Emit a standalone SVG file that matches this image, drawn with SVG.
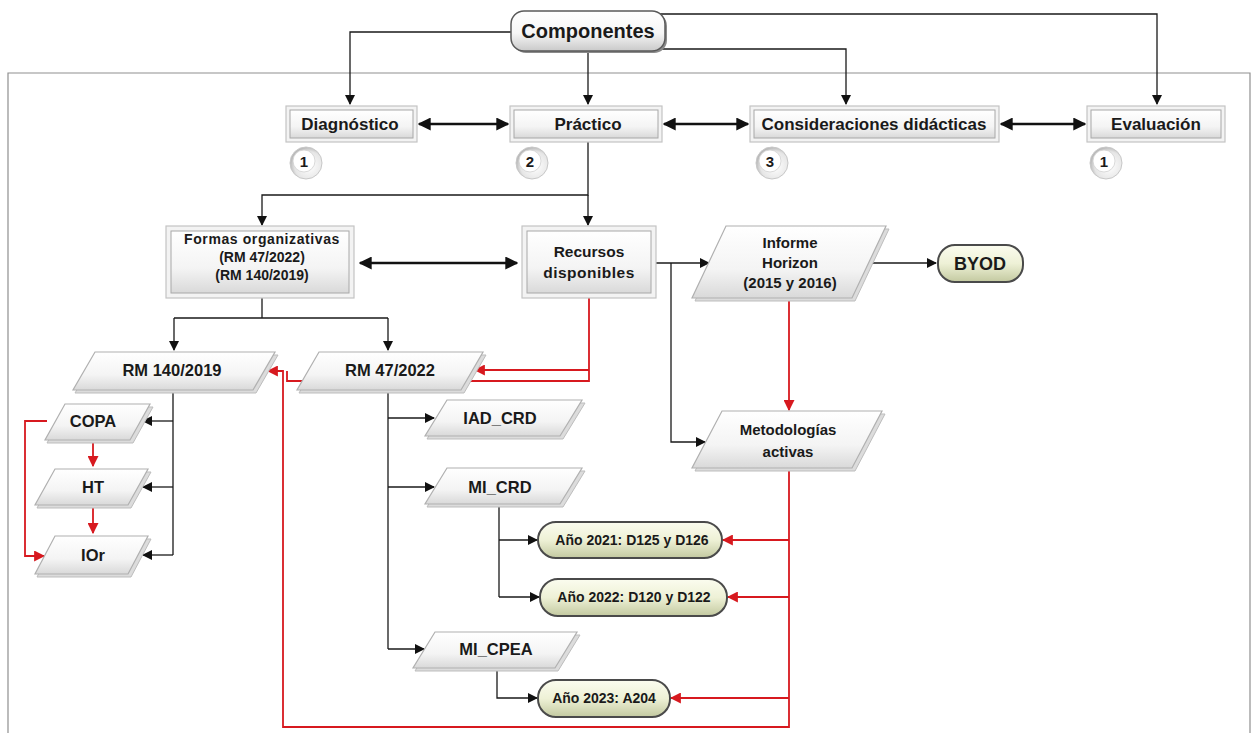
<svg xmlns="http://www.w3.org/2000/svg" width="1257" height="733" viewBox="0 0 1257 733">
<defs>
<linearGradient id="gBox" x1="0" y1="0" x2="0" y2="1">
<stop offset="0" stop-color="#ffffff"/><stop offset="0.6" stop-color="#f4f4f4"/><stop offset="1" stop-color="#d9d9d9"/>
</linearGradient>
<linearGradient id="gComp" x1="0" y1="0" x2="0" y2="1">
<stop offset="0" stop-color="#ffffff"/><stop offset="0.55" stop-color="#f6f6f6"/><stop offset="1" stop-color="#c9c9c9"/>
</linearGradient>
<linearGradient id="gPill" x1="0" y1="0" x2="0" y2="1">
<stop offset="0" stop-color="#fbfcef"/><stop offset="0.5" stop-color="#eef1d6"/><stop offset="1" stop-color="#c3c9a0"/>
</linearGradient>
<radialGradient id="gRing" cx="0.6" cy="0.6" r="0.6">
<stop offset="0" stop-color="#ffffff"/><stop offset="0.75" stop-color="#e6e6e6"/><stop offset="1" stop-color="#b8b8b8"/>
</radialGradient>
<marker id="ab" viewBox="0 0 10 10" refX="9" refY="5" markerWidth="10" markerHeight="10" markerUnits="userSpaceOnUse" orient="auto-start-reverse">
<path d="M0,0 L10,5 L0,10 z" fill="#111"/>
</marker>
<marker id="abBig" viewBox="0 0 10 10" refX="9" refY="5" markerWidth="13" markerHeight="13" markerUnits="userSpaceOnUse" orient="auto-start-reverse">
<path d="M0,0 L10,5 L0,10 z" fill="#111"/>
</marker>
<marker id="ar" viewBox="0 0 10 10" refX="9" refY="5" markerWidth="11" markerHeight="11" markerUnits="userSpaceOnUse" orient="auto-start-reverse">
<path d="M0,0 L10,5 L0,10 z" fill="#d7191f"/>
</marker>
</defs>
<style>
.t{font-family:"Liberation Sans",Arial,sans-serif;font-weight:bold;fill:#1a1a1a;text-anchor:middle}
.big{font-size:20px}
.top{font-size:17px}
.mid{font-size:14px}
.par{font-size:16.5px}
.sm{font-size:14px}
.num{font-size:15px}
.bl{fill:none;stroke:#1a1a1a;stroke-width:1.3}
.bl2{fill:none;stroke:#111;stroke-width:2.6}
.rd{fill:none;stroke:#d7191f;stroke-width:1.8}
.outer{fill:#f3f3f3;stroke:#c4c4c4;stroke-width:1.2}
.inner{fill:url(#gBox);stroke:#a8a8a8;stroke-width:1}
.psh{fill:#dcdcdc;stroke:#bdbdbd;stroke-width:1}
.para{fill:url(#gBox);stroke:#b0b0b0;stroke-width:1.2}
.pill{fill:url(#gPill);stroke:#4a4a4a;stroke-width:2}
.ring{fill:url(#gRing);stroke:#c8c8c8;stroke-width:1}
.core{fill:#ffffff;stroke:#d0d0d0;stroke-width:0.8}
</style>
<rect width="1257" height="733" fill="#ffffff"/>
<path d="M8,740 V73 H1250 V740" fill="none" stroke="#8f8f8f" stroke-width="1.2"/>

<g id="connectors">
<path class="bl" d="M511,32 H350 V104" marker-end="url(#ab)"/>
<path class="bl" d="M588,51 V104" marker-end="url(#ab)"/>
<path class="bl" d="M660,49 H846 V104" marker-end="url(#ab)"/>
<path class="bl" d="M658,14 H1157 V104" marker-end="url(#ab)"/>
<path class="bl2" d="M419,124 H508" marker-start="url(#abBig)" marker-end="url(#abBig)"/>
<path class="bl2" d="M664,124 H748" marker-start="url(#abBig)" marker-end="url(#abBig)"/>
<path class="bl2" d="M1001,124 H1085" marker-start="url(#abBig)" marker-end="url(#abBig)"/>
<path class="bl2" d="M360,263 H517" marker-start="url(#abBig)" marker-end="url(#abBig)"/>
<path class="bl" d="M588,142 V195 H262 V225" marker-end="url(#ab)"/>
<path class="bl" d="M588,195 V225" marker-end="url(#ab)"/>
<path class="bl" d="M656,263 H709" marker-end="url(#ab)"/>
<path class="bl" d="M671,263 V442 H705" marker-end="url(#ab)"/>
<path class="bl" d="M869,263 H936" marker-end="url(#ab)"/>
<path class="bl" d="M262,298 V318 M174,318 H388"/>
<path class="bl" d="M174,318 V350" marker-end="url(#ab)"/>
<path class="bl" d="M388,318 V350" marker-end="url(#ab)"/>
<path class="bl" d="M173,390 V555"/>
<path class="bl" d="M173,421 H143" marker-end="url(#ab)"/>
<path class="bl" d="M173,487 H143" marker-end="url(#ab)"/>
<path class="bl" d="M173,555 H143" marker-end="url(#ab)"/>
<path class="bl" d="M388,390 V649"/>
<path class="bl" d="M388,418 H434" marker-end="url(#ab)"/>
<path class="bl" d="M388,487 H434" marker-end="url(#ab)"/>
<path class="bl" d="M388,649 H424" marker-end="url(#ab)"/>
<path class="bl" d="M499,504 V597"/>
<path class="bl" d="M499,540 H537" marker-end="url(#ab)"/>
<path class="bl" d="M499,597 H539" marker-end="url(#ab)"/>
<path class="bl" d="M497,668 V698 H537" marker-end="url(#ab)"/>
<path class="rd" d="M589,298 V381 H287 V371"/>
<path class="rd" d="M589,370 H475" marker-end="url(#ar)"/>
<path class="rd" d="M789,298 V410" marker-end="url(#ar)"/>
<path class="rd" d="M789,468 V727 H283 V371 H268" marker-end="url(#ar)"/>
<path class="rd" d="M789,540 H723" marker-end="url(#ar)"/>
<path class="rd" d="M789,597 H728" marker-end="url(#ar)"/>
<path class="rd" d="M789,698 H671" marker-end="url(#ar)"/>
<path class="rd" d="M93,440 V466" marker-end="url(#ar)"/>
<path class="rd" d="M93,505 V533" marker-end="url(#ar)"/>
<path class="rd" d="M47,421 H25 V556 H44" marker-end="url(#ar)"/>
</g>

<g id="componentes">
<rect x="511" y="11" width="154" height="40" rx="13" fill="#8a8a8a" transform="translate(2,2)"/>
<rect x="511" y="11" width="154" height="40" rx="13" fill="url(#gComp)" stroke="#5a5a5a" stroke-width="1.5"/>
<text class="t big" x="588" y="38">Componentes</text>
</g>

<g id="diagnostico">
<rect class="outer" x="286" y="106" width="131" height="36"/>
<rect class="inner" x="290" y="110" width="123" height="28"/>
<text class="t top" x="350" y="130">Diagnóstico</text>
</g>
<g id="practico">
<rect class="outer" x="510" y="106" width="152" height="36"/>
<rect class="inner" x="514" y="110" width="144" height="28"/>
<text class="t top" x="588" y="130">Práctico</text>
</g>
<g id="consideraciones">
<rect class="outer" x="750" y="106" width="249" height="36"/>
<rect class="inner" x="754" y="110" width="241" height="28"/>
<text class="t top" x="874" y="130">Consideraciones didácticas</text>
</g>
<g id="evaluacion">
<rect class="outer" x="1087" y="106" width="138" height="36"/>
<rect class="inner" x="1091" y="110" width="130" height="28"/>
<text class="t top" x="1156" y="130">Evaluación</text>
</g>

<g id="num1a"><circle class="ring" cx="306" cy="163" r="16"/><circle class="core" cx="304" cy="161" r="11"/><text class="t num" x="304" y="167">1</text></g>
<g id="num2"><circle class="ring" cx="532" cy="163" r="16"/><circle class="core" cx="530" cy="161" r="11"/><text class="t num" x="530" y="167">2</text></g>
<g id="num3"><circle class="ring" cx="772" cy="163" r="16"/><circle class="core" cx="770" cy="161" r="11"/><text class="t num" x="770" y="167">3</text></g>
<g id="num1b"><circle class="ring" cx="1106" cy="163" r="16"/><circle class="core" cx="1104" cy="161" r="11"/><text class="t num" x="1104" y="167">1</text></g>

<g id="formas">
<rect class="outer" x="166" y="226" width="188" height="72"/>
<rect class="inner" x="171" y="231" width="178" height="62"/>
<text class="t mid" x="262" y="244" style="letter-spacing:0.6px">Formas organizativas</text>
<text class="t mid" x="262" y="262">(RM 47/2022)</text>
<text class="t mid" x="262" y="280">(RM 140/2019)</text>
</g>
<g id="recursos">
<rect class="outer" x="522" y="226" width="134" height="72"/>
<rect class="inner" x="527" y="231" width="124" height="62"/>
<text class="t" style="font-size:15.5px" x="589" y="257">Recursos</text>
<text class="t" style="font-size:15.5px;letter-spacing:0.5px" x="589" y="278">disponibles</text>
</g>

<g id="informe">
<polygon class="psh" points="729,229 889,229 855,301 695,301"/>
<polygon class="para" points="726,226 886,226 852,298 692,298"/>
<text class="t" style="font-size:15px" x="790" y="248">Informe</text>
<text class="t" style="font-size:15px" x="790" y="268">Horizon</text>
<text class="t" style="font-size:15px" x="790" y="288">(2015 y 2016)</text>
</g>
<g id="byod">
<rect x="938" y="245" width="85" height="37" rx="17" class="pill"/>
<text class="t" style="font-size:18px" x="980" y="270">BYOD</text>
</g>

<g id="rm140">
<polygon class="psh" points="97,355 278,355 256,393 75,393"/>
<polygon class="para" points="95,352 275,352 253,390 73,390"/>
<text class="t par" x="172" y="376">RM 140/2019</text>
</g>
<g id="rm47">
<polygon class="psh" points="321,355 486,355 464,393 299,393"/>
<polygon class="para" points="319,352 483,352 461,390 297,390"/>
<text class="t par" x="390" y="376">RM 47/2022</text>
</g>

<g id="copa">
<polygon class="psh" points="67,407 153,407 133,443 47,443"/>
<polygon class="para" points="65,404 150,404 130,440 45,440"/>
<text class="t par" x="93" y="427">COPA</text>
</g>
<g id="ht">
<polygon class="psh" points="57,472 151,472 131,508 37,508"/>
<polygon class="para" points="55,469 148,469 128,505 35,505"/>
<text class="t par" x="93" y="493">HT</text>
</g>
<g id="ior">
<polygon class="psh" points="57,539 151,539 131,577 37,577"/>
<polygon class="para" points="55,536 148,536 128,574 35,574"/>
<text class="t par" x="93" y="561">IOr</text>
</g>

<g id="iad_crd">
<polygon class="psh" points="449,403 585,403 563,439 427,439"/>
<polygon class="para" points="447,400 582,400 560,436 425,436"/>
<text class="t par" x="500" y="424">IAD_CRD</text>
</g>
<g id="mi_crd">
<polygon class="psh" points="449,471 585,471 563,507 427,507"/>
<polygon class="para" points="447,468 582,468 560,504 425,504"/>
<text class="t par" x="500" y="493">MI_CRD</text>
</g>
<g id="mi_cpea">
<polygon class="psh" points="437,635 580,635 558,671 415,671"/>
<polygon class="para" points="435,632 577,632 555,668 413,668"/>
<text class="t par" x="496" y="655">MI_CPEA</text>
</g>

<g id="metodologias">
<polygon class="psh" points="725,414 885,414 855,471 695,471"/>
<polygon class="para" points="722,411 882,411 852,468 692,468"/>
<text class="t" style="font-size:15px" x="788" y="435">Metodologías</text>
<text class="t" style="font-size:15px" x="788" y="457">activas</text>
</g>

<g id="ano2021">
<rect x="538" y="522" width="184" height="36" rx="18" class="pill"/>
<text class="t sm" x="632" y="545">Año 2021: D125 y D126</text>
</g>
<g id="ano2022">
<rect x="540" y="579" width="187" height="37" rx="18" class="pill"/>
<text class="t sm" x="634" y="602">Año 2022: D120 y D122</text>
</g>
<g id="ano2023">
<rect x="538" y="680" width="132" height="37" rx="18" class="pill"/>
<text class="t sm" x="604" y="703">Año 2023: A204</text>
</g>
</svg>
